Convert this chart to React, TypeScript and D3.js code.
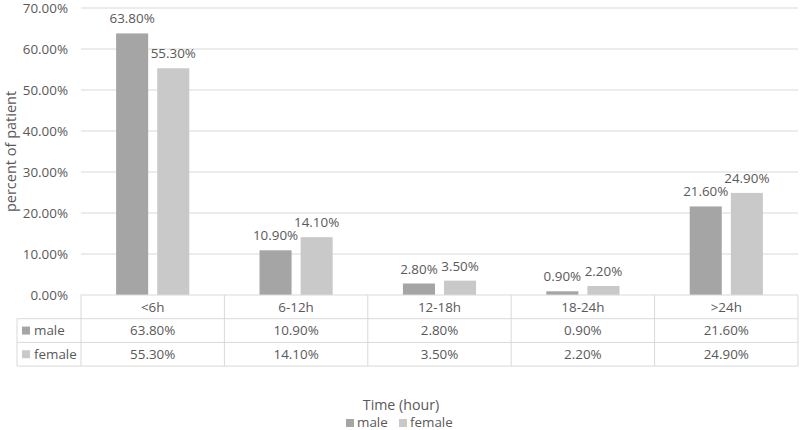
import React from "react";
import * as d3 from "d3";

const categories = ["<6h", "6-12h", "12-18h", "18-24h", ">24h"];
const seriesNames = ["male", "female"];
const male = [63.8, 10.9, 2.8, 0.9, 21.6];
const female = [55.3, 14.1, 3.5, 2.2, 24.9];
const yTicks = [0, 10, 20, 30, 40, 50, 60, 70];
const colors = ["#A5A5A5", "#C9C9C9"];

const W = 800, H = 430;
const left = 81, right = 798, top = 8, bottom = 295;
const rowH = 23.7;
const tableLeft = 17;
const textColor = "#595959";
const gridColor = "#D9D9D9";
const font = "'Open Sans', sans-serif";
const fs = 13.4;

export default function App() {
  const x = d3.scaleBand<string>().domain(categories).range([left, right]);
  const y = d3.scaleLinear().domain([0, 70]).range([bottom, top]);
  const inner = d3.scaleBand<string>().domain(seriesNames).range([0, x.bandwidth()]).paddingInner(0.22).paddingOuter(0.854);
  const series = [male, female];
  const fmt = (v: number) => v.toFixed(2) + "%";
  const tableBottom = bottom + rowH * 3;
  return (
    <svg width={W} height={H} style={{ position: "absolute", left: 0, top: 0 }} fontFamily={font}>
      <rect width={W} height={H} fill="#fff" />
      {yTicks.map((t) => (
        <g key={t}>
          {t > 0 && <line x1={left} x2={right} y1={y(t)} y2={y(t)} stroke={gridColor} strokeWidth={1} />}
          <text x={68} y={y(t)} dy="0.35em" textAnchor="end" fontSize={fs} fill={textColor}>{t.toFixed(2)}%</text>
        </g>
      ))}
      <text transform={`translate(11,${(top + bottom) / 2}) rotate(-90)`} textAnchor="middle" dy="0.35em" fontSize={14.5} fill={textColor}>percent of patient</text>
      {series.map((vals, si) =>
        vals.map((v, i) => {
          const bx = (x(categories[i]) as number) + (inner(seriesNames[si]) as number);
          return (
            <g key={si + "-" + i}>
              <rect x={bx} y={y(v)} width={inner.bandwidth()} height={bottom - y(v)} fill={colors[si]} />
              <text x={bx + inner.bandwidth() / 2} y={y(v) - 10} textAnchor="middle" fontSize={fs} fill={textColor}>{fmt(v)}</text>
            </g>
          );
        })
      )}
      <g stroke={gridColor} strokeWidth={1} fill="none">
        <line x1={left} x2={right} y1={bottom} y2={bottom} />
        <line x1={tableLeft} x2={right} y1={bottom + rowH} y2={bottom + rowH} />
        <line x1={tableLeft} x2={right} y1={bottom + rowH * 2} y2={bottom + rowH * 2} />
        <line x1={tableLeft} x2={right} y1={tableBottom} y2={tableBottom} />
        <line x1={tableLeft} x2={tableLeft} y1={bottom + rowH} y2={tableBottom} />
        {categories.map((c) => (
          <line key={c} x1={x(c) as number} x2={x(c) as number} y1={bottom} y2={tableBottom} />
        ))}
        <line x1={right} x2={right} y1={bottom} y2={tableBottom} />
      </g>
      {categories.map((c) => (
        <text key={c} x={(x(c) as number) + x.bandwidth() / 2} y={bottom + rowH / 2} dy="0.35em" textAnchor="middle" fontSize={fs} fill={textColor}>{c}</text>
      ))}
      {series.map((vals, si) => (
        <g key={"row" + si}>
          <rect x={22} y={bottom + rowH * (si + 1.5) - 4} width={8} height={8} fill={colors[si]} />
          <text x={34} y={bottom + rowH * (si + 1.5)} dy="0.35em" fontSize={fs} fill={textColor}>{seriesNames[si]}</text>
          {vals.map((v, i) => (
            <text key={i} x={(x(categories[i]) as number) + x.bandwidth() / 2} y={bottom + rowH * (si + 1.5)} dy="0.35em" textAnchor="middle" fontSize={fs} fill={textColor}>{fmt(v)}</text>
          ))}
        </g>
      ))}
      <text x={401} y={409.5} textAnchor="middle" fontSize={14.2} fill={textColor}>Time (hour)</text>
      <g>
        <rect x={346} y={419} width={8} height={8} fill={colors[0]} />
        <text x={357} y={426.5} fontSize={fs} fill={textColor}>male</text>
        <rect x={399} y={419} width={8} height={8} fill={colors[1]} />
        <text x={410} y={426.5} fontSize={fs} fill={textColor}>female</text>
      </g>
    </svg>
  );
}
